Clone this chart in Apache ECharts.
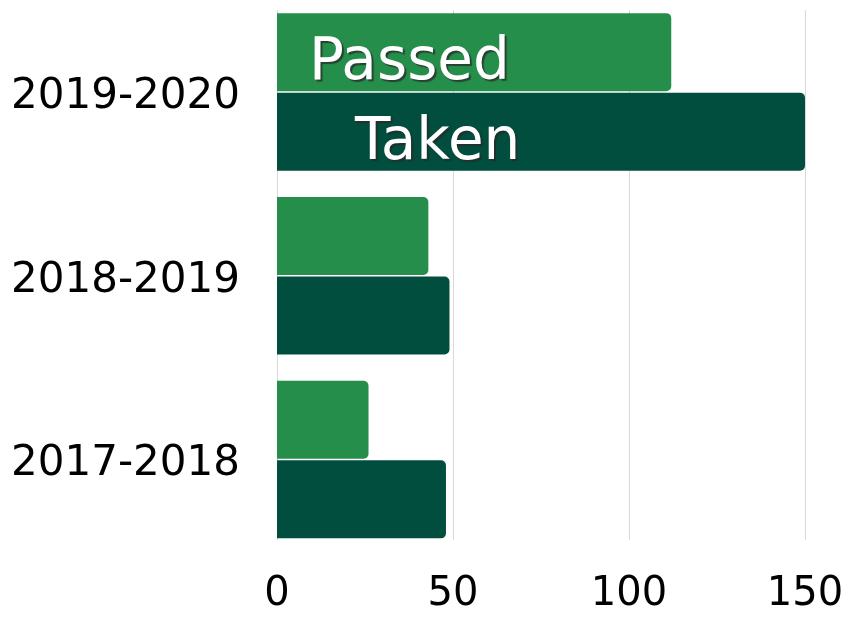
<!DOCTYPE html>
<html>
<head>
<meta charset="utf-8">
<script src="https://cdn.jsdelivr.net/npm/echarts@6/dist/echarts.min.js"></script>
<style>
  html, body { margin: 0; padding: 0; background: #fff; }
  #chart { width: 855px; height: 617px; }
</style>
</head>
<body>
<div id="chart"></div>
<script>
const years = ['2017-2018', '2018-2019', '2019-2020'];
const passed = [26, 43, 112];
const taken = [48, 49, 150];
const xTicks = [0, 50, 100, 150];

const FONT = 'DejaVu Sans';
const bigLabel = {
  show: true,
  color: '#fff',
  fontFamily: FONT,
  fontSize: 58,
  textShadowColor: 'rgba(40,40,40,0.75)',
  textShadowOffsetX: 2,
  textShadowOffsetY: 2,
  textShadowBlur: 1
};

function withLabel(values, name, dist) {
  return values.map((v, i) => {
    if (i !== values.length - 1) return v;
    return {
      value: v,
      label: Object.assign({}, bigLabel, {
        position: 'insideLeft',
        distance: dist,
        offset: [0, 12],
        formatter: name
      })
    };
  });
}

const chart = echarts.init(document.getElementById('chart'));
chart.setOption({
  animation: false,
  grid: [
    // split lines + value labels
    {left: 277, right: 50, top: 10, bottom: 77},
    // bars + category labels
    {left: 277, right: 50, top: -4, bottom: 65.5}
  ],
  xAxis: [
    {
      gridIndex: 0, type: 'value', min: xTicks[0], max: xTicks[xTicks.length - 1], interval: 50,
      axisLine: {show: false}, axisTick: {show: false},
      splitLine: {lineStyle: {color: '#d9d9d9', width: 1}},
      axisLabel: {color: '#000', fontFamily: FONT, fontSize: 40, margin: 35}
    },
    {
      gridIndex: 1, type: 'value', min: 0, max: 150,
      show: false
    }
  ],
  yAxis: [
    {gridIndex: 0, type: 'category', data: years, show: false},
    {
      gridIndex: 1, type: 'category', data: years,
      axisLine: {show: false}, axisTick: {show: false},
      axisLabel: {
        margin: 37,
        formatter: v => '{y|' + v + '}',
        rich: {y: {color: '#000', fontFamily: FONT, fontSize: 42, padding: [10, 0, 0, 0]}}
      }
    }
  ],
  series: [
    {
      name: 'Passed', type: 'bar', xAxisIndex: 1, yAxisIndex: 1,
      barWidth: 78, barGap: '2%',
      itemStyle: {color: '#248E4A', borderRadius: [0, 5, 5, 0]},
      data: withLabel(passed, 'Passed', 32)
    },
    {
      name: 'Taken', type: 'bar', xAxisIndex: 1, yAxisIndex: 1,
      barWidth: 78, barGap: '2%',
      itemStyle: {color: '#024E3E', borderRadius: [0, 5, 5, 0]},
      data: withLabel(taken, 'Taken', 78)
    }
  ]
});
</script>
</body>
</html>
